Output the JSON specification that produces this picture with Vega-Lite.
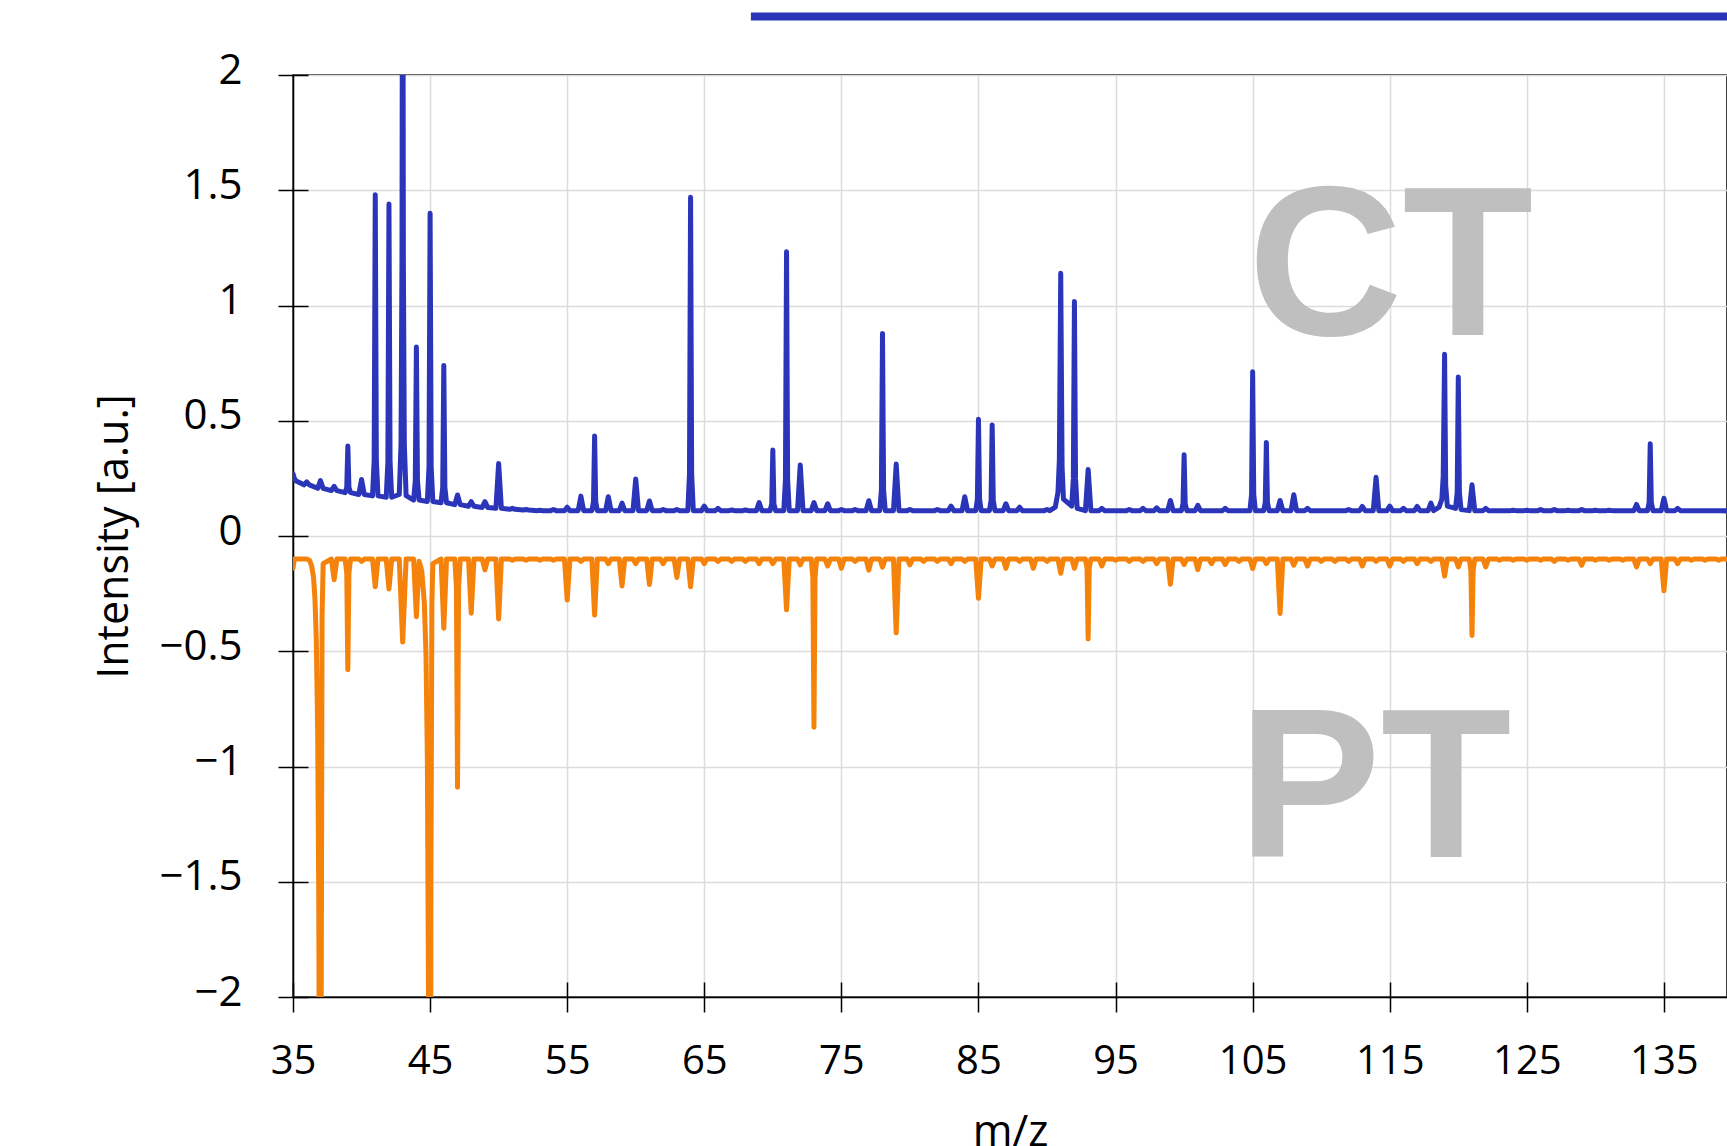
{
"$schema":"https://vega.github.io/schema/vega-lite/v6.json",
"width":1434,"height":922,
"autosize":{"type":"none"},
"padding":{"left":293,"top":75,"right":0,"bottom":149},
"background":"white",
"config":{"view":{"stroke":"#000","strokeWidth":1.5}},
"datasets":{
"spec":[
{"m":35,"c":0.27,"p":-0.14},{"m":35.1,"c":0.25,"p":-0.1},{"m":35.2,"c":0.24,"p":-0.1},
{"m":35.8,"c":0.222,"p":-0.1},{"m":36,"c":0.235,"p":-0.1},{"m":36.2,"c":0.222,"p":-0.105},
{"m":36.36,"p":-0.13},{"m":36.5,"p":-0.18},{"m":36.6,"p":-0.27},{"m":36.7,"p":-0.45},
{"m":36.8,"c":0.207,"p":-0.85},{"m":36.88,"p":-1.6},{"m":36.95,"p":-3},{"m":37,"c":0.24,"p":-5},{"m":37.06,"p":-2},{"m":37.12,"p":-0.35},{"m":37.2,"c":0.207,"p":-0.12},
{"m":37.8,"c":0.197,"p":-0.1},{"m":38,"c":0.215,"p":-0.19},{"m":38.2,"c":0.197,"p":-0.1},
{"m":38.8,"c":0.188,"p":-0.1},{"m":38.92,"c":0.21,"p":-0.16},{"m":39,"c":0.39,"p":-0.58},{"m":39.08,"c":0.21,"p":-0.16},{"m":39.2,"c":0.188,"p":-0.1},
{"m":39.8,"c":0.18,"p":-0.1},{"m":40,"c":0.245,"p":-0.11},{"m":40.2,"c":0.18,"p":-0.1},
{"m":40.8,"c":0.174,"p":-0.1},{"m":40.92,"c":0.33},{"m":41,"c":1.48,"p":-0.22},{"m":41.08,"c":0.33},{"m":41.2,"c":0.174,"p":-0.1},
{"m":41.8,"c":0.168,"p":-0.1},{"m":41.92,"c":0.32},{"m":42,"c":1.44,"p":-0.23},{"m":42.08,"c":0.32},{"m":42.2,"c":0.168,"p":-0.1},
{"m":42.75,"c":0.18,"p":-0.1},{"m":42.88,"c":0.4},{"m":42.95,"c":1.2},{"m":43,"c":3.5,"p":-0.46},{"m":43.05,"c":1.2},{"m":43.12,"c":0.4},{"m":43.25,"c":0.175,"p":-0.1},
{"m":43.8,"c":0.156,"p":-0.1},{"m":43.92,"c":0.24},{"m":44,"c":0.82,"p":-0.35},{"m":44.08,"c":0.24},{"m":44.2,"c":0.156,"p":-0.11},
{"m":44.39,"p":-0.15},{"m":44.58,"p":-0.29},{"m":44.7,"p":-0.51},
{"m":44.8,"c":0.15,"p":-0.96},{"m":44.9,"p":-2.2},{"m":44.92,"c":0.3},{"m":45,"c":1.4,"p":-5},{"m":45.06,"p":-1.5},{"m":45.08,"c":0.3},{"m":45.13,"p":-0.3},{"m":45.2,"c":0.15,"p":-0.12},
{"m":45.8,"c":0.144,"p":-0.1},{"m":45.92,"c":0.21},{"m":46,"c":0.74,"p":-0.4},{"m":46.08,"c":0.21},{"m":46.2,"c":0.144,"p":-0.1},
{"m":46.8,"c":0.136,"p":-0.1},{"m":46.92,"p":-0.22},{"m":47,"c":0.178,"p":-1.09},{"m":47.08,"p":-0.22},{"m":47.2,"c":0.136,"p":-0.1},
{"m":47.8,"c":0.129,"p":-0.1},{"m":48,"c":0.149,"p":-0.335},{"m":48.2,"c":0.129,"p":-0.1},
{"m":48.8,"c":0.124,"p":-0.1},{"m":49,"c":0.149,"p":-0.147},{"m":49.2,"c":0.124,"p":-0.1},
{"m":49.8,"c":0.12,"p":-0.1},{"m":50,"c":0.315,"p":-0.36},{"m":50.2,"c":0.12,"p":-0.1},
{"m":50.8,"c":0.116,"p":-0.1},{"m":51,"c":0.12,"p":-0.105},{"m":51.2,"c":0.116,"p":-0.1},
{"m":51.8,"c":0.113,"p":-0.1},{"m":52,"c":0.115,"p":-0.105},{"m":52.2,"c":0.113,"p":-0.1},
{"m":52.8,"c":0.11,"p":-0.1},{"m":53,"c":0.112,"p":-0.105},{"m":53.2,"c":0.11,"p":-0.1},
{"m":53.8,"c":0.11,"p":-0.1},{"m":54,"c":0.115,"p":-0.105},{"m":54.2,"c":0.11,"p":-0.1},
{"m":54.8,"c":0.11,"p":-0.1},{"m":55,"c":0.125,"p":-0.278},{"m":55.2,"c":0.11,"p":-0.1},
{"m":55.8,"c":0.11,"p":-0.1},{"m":56,"c":0.173,"p":-0.11},{"m":56.2,"c":0.11,"p":-0.1},
{"m":56.8,"c":0.11,"p":-0.1},{"m":56.92,"c":0.15},{"m":57,"c":0.434,"p":-0.343},{"m":57.08,"c":0.15},{"m":57.2,"c":0.11,"p":-0.1},
{"m":57.8,"c":0.11,"p":-0.1},{"m":58,"c":0.17,"p":-0.12},{"m":58.2,"c":0.11,"p":-0.1},
{"m":58.8,"c":0.11,"p":-0.1},{"m":59,"c":0.143,"p":-0.217},{"m":59.2,"c":0.11,"p":-0.1},
{"m":59.8,"c":0.11,"p":-0.1},{"m":60,"c":0.247,"p":-0.12},{"m":60.2,"c":0.11,"p":-0.1},
{"m":60.8,"c":0.11,"p":-0.1},{"m":61,"c":0.152,"p":-0.21},{"m":61.2,"c":0.11,"p":-0.1},
{"m":61.8,"c":0.11,"p":-0.1},{"m":62,"c":0.115,"p":-0.12},{"m":62.2,"c":0.11,"p":-0.1},
{"m":62.8,"c":0.11,"p":-0.1},{"m":63,"c":0.115,"p":-0.18},{"m":63.2,"c":0.11,"p":-0.1},
{"m":63.8,"c":0.11,"p":-0.1},{"m":63.92,"c":0.27},{"m":64,"c":1.47,"p":-0.22},{"m":64.08,"c":0.27},{"m":64.2,"c":0.11,"p":-0.1},
{"m":64.8,"c":0.11,"p":-0.1},{"m":65,"c":0.13,"p":-0.12},{"m":65.2,"c":0.11,"p":-0.1},
{"m":65.8,"c":0.11,"p":-0.1},{"m":66,"c":0.12,"p":-0.11},{"m":66.2,"c":0.11,"p":-0.1},
{"m":66.8,"c":0.11,"p":-0.1},{"m":67,"c":0.113,"p":-0.11},{"m":67.2,"c":0.11,"p":-0.1},
{"m":67.8,"c":0.11,"p":-0.1},{"m":68,"c":0.113,"p":-0.11},{"m":68.2,"c":0.11,"p":-0.1},
{"m":68.8,"c":0.11,"p":-0.1},{"m":69,"c":0.145,"p":-0.12},{"m":69.2,"c":0.11,"p":-0.1},
{"m":69.8,"c":0.11,"p":-0.1},{"m":69.92,"c":0.14},{"m":70,"c":0.373,"p":-0.12},{"m":70.08,"c":0.14},{"m":70.2,"c":0.11,"p":-0.1},
{"m":70.8,"c":0.11,"p":-0.1},{"m":70.92,"c":0.245},{"m":71,"c":1.233,"p":-0.32},{"m":71.08,"c":0.245},{"m":71.2,"c":0.11,"p":-0.1},
{"m":71.8,"c":0.11,"p":-0.1},{"m":72,"c":0.308,"p":-0.125},{"m":72.2,"c":0.11,"p":-0.1},
{"m":72.8,"c":0.11,"p":-0.1},{"m":72.92,"p":-0.18},{"m":73,"c":0.145,"p":-0.83},{"m":73.08,"p":-0.18},{"m":73.2,"c":0.11,"p":-0.1},
{"m":73.8,"c":0.11,"p":-0.1},{"m":74,"c":0.14,"p":-0.13},{"m":74.2,"c":0.11,"p":-0.1},
{"m":74.8,"c":0.11,"p":-0.1},{"m":75,"c":0.115,"p":-0.14},{"m":75.2,"c":0.11,"p":-0.1},
{"m":75.8,"c":0.11,"p":-0.1},{"m":76,"c":0.115,"p":-0.11},{"m":76.2,"c":0.11,"p":-0.1},
{"m":76.8,"c":0.11,"p":-0.1},{"m":77,"c":0.153,"p":-0.148},{"m":77.2,"c":0.11,"p":-0.1},
{"m":77.8,"c":0.11,"p":-0.1},{"m":77.92,"c":0.2},{"m":78,"c":0.879,"p":-0.135},{"m":78.08,"c":0.2},{"m":78.2,"c":0.11,"p":-0.1},
{"m":78.8,"c":0.11,"p":-0.1},{"m":79,"c":0.312,"p":-0.42},{"m":79.2,"c":0.11,"p":-0.1},
{"m":79.8,"c":0.11,"p":-0.1},{"m":80,"c":0.115,"p":-0.125},{"m":80.2,"c":0.11,"p":-0.1},
{"m":80.8,"c":0.11,"p":-0.1},{"m":81,"c":0.11,"p":-0.11},{"m":81.2,"c":0.11,"p":-0.1},
{"m":81.8,"c":0.11,"p":-0.1},{"m":82,"c":0.115,"p":-0.11},{"m":82.2,"c":0.11,"p":-0.1},
{"m":82.8,"c":0.11,"p":-0.1},{"m":83,"c":0.13,"p":-0.12},{"m":83.2,"c":0.11,"p":-0.1},
{"m":83.8,"c":0.11,"p":-0.1},{"m":84,"c":0.17,"p":-0.11},{"m":84.2,"c":0.11,"p":-0.1},
{"m":84.8,"c":0.11,"p":-0.1},{"m":84.92,"c":0.16},{"m":85,"c":0.506,"p":-0.27},{"m":85.08,"c":0.16},{"m":85.2,"c":0.11,"p":-0.1},
{"m":85.8,"c":0.11,"p":-0.1},{"m":85.92,"c":0.155},{"m":86,"c":0.482,"p":-0.13},{"m":86.08,"c":0.155},{"m":86.2,"c":0.11,"p":-0.1},
{"m":86.8,"c":0.11,"p":-0.1},{"m":87,"c":0.14,"p":-0.14},{"m":87.2,"c":0.11,"p":-0.1},
{"m":87.8,"c":0.11,"p":-0.1},{"m":88,"c":0.125,"p":-0.11},{"m":88.2,"c":0.11,"p":-0.1},
{"m":88.8,"c":0.11,"p":-0.1},{"m":89,"c":0.11,"p":-0.14},{"m":89.2,"c":0.11,"p":-0.1},
{"m":89.8,"c":0.11,"p":-0.1},{"m":90,"c":0.115,"p":-0.11},{"m":90.2,"c":0.11,"p":-0.1},
{"m":90.6,"c":0.125},{"m":90.8,"c":0.19,"p":-0.1},{"m":90.9,"c":0.33},{"m":91,"c":1.14,"p":-0.162},{"m":91.1,"c":0.3},{"m":91.2,"c":0.16,"p":-0.1},
{"m":91.8,"c":0.13,"p":-0.1},{"m":91.92,"c":0.25},{"m":92,"c":1.017,"p":-0.14},{"m":92.08,"c":0.25},{"m":92.2,"c":0.12,"p":-0.1},
{"m":92.8,"c":0.11,"p":-0.1},{"m":92.92,"p":-0.14},{"m":93,"c":0.289,"p":-0.447},{"m":93.08,"p":-0.14},{"m":93.2,"c":0.11,"p":-0.1},
{"m":93.8,"c":0.11,"p":-0.1},{"m":94,"c":0.12,"p":-0.13},{"m":94.2,"c":0.11,"p":-0.1},
{"m":94.8,"c":0.11,"p":-0.1},{"m":95,"c":0.11,"p":-0.105},{"m":95.2,"c":0.11,"p":-0.1},
{"m":95.8,"c":0.11,"p":-0.1},{"m":96,"c":0.115,"p":-0.11},{"m":96.2,"c":0.11,"p":-0.1},
{"m":96.8,"c":0.11,"p":-0.1},{"m":97,"c":0.12,"p":-0.11},{"m":97.2,"c":0.11,"p":-0.1},
{"m":97.8,"c":0.11,"p":-0.1},{"m":98,"c":0.122,"p":-0.12},{"m":98.2,"c":0.11,"p":-0.1},
{"m":98.8,"c":0.11,"p":-0.1},{"m":99,"c":0.154,"p":-0.209},{"m":99.2,"c":0.11,"p":-0.1},
{"m":99.8,"c":0.11,"p":-0.1},{"m":99.92,"c":0.14},{"m":100,"c":0.352,"p":-0.124},{"m":100.08,"c":0.14},{"m":100.2,"c":0.11,"p":-0.1},
{"m":100.8,"c":0.11,"p":-0.1},{"m":101,"c":0.133,"p":-0.146},{"m":101.2,"c":0.11,"p":-0.1},
{"m":101.8,"c":0.11,"p":-0.1},{"m":102,"c":0.11,"p":-0.12},{"m":102.2,"c":0.11,"p":-0.1},
{"m":102.8,"c":0.11,"p":-0.1},{"m":103,"c":0.12,"p":-0.124},{"m":103.2,"c":0.11,"p":-0.1},
{"m":103.8,"c":0.11,"p":-0.1},{"m":104,"c":0.11,"p":-0.11},{"m":104.2,"c":0.11,"p":-0.1},
{"m":104.8,"c":0.11,"p":-0.1},{"m":104.92,"c":0.18},{"m":105,"c":0.713,"p":-0.141},{"m":105.08,"c":0.18},{"m":105.2,"c":0.11,"p":-0.1},
{"m":105.8,"c":0.11,"p":-0.1},{"m":105.92,"c":0.145},{"m":106,"c":0.406,"p":-0.12},{"m":106.08,"c":0.145},{"m":106.2,"c":0.11,"p":-0.1},
{"m":106.8,"c":0.11,"p":-0.1},{"m":107,"c":0.154,"p":-0.336},{"m":107.2,"c":0.11,"p":-0.1},
{"m":107.8,"c":0.11,"p":-0.1},{"m":108,"c":0.179,"p":-0.127},{"m":108.2,"c":0.11,"p":-0.1},
{"m":108.8,"c":0.11,"p":-0.1},{"m":109,"c":0.12,"p":-0.13},{"m":109.2,"c":0.11,"p":-0.1},
{"m":109.8,"c":0.11,"p":-0.1},{"m":110,"c":0.11,"p":-0.11},{"m":110.2,"c":0.11,"p":-0.1},
{"m":110.8,"c":0.11,"p":-0.1},{"m":111,"c":0.11,"p":-0.11},{"m":111.2,"c":0.11,"p":-0.1},
{"m":111.8,"c":0.11,"p":-0.1},{"m":112,"c":0.115,"p":-0.11},{"m":112.2,"c":0.11,"p":-0.1},
{"m":112.8,"c":0.11,"p":-0.1},{"m":113,"c":0.128,"p":-0.13},{"m":113.2,"c":0.11,"p":-0.1},
{"m":113.8,"c":0.11,"p":-0.1},{"m":114,"c":0.255,"p":-0.11},{"m":114.2,"c":0.11,"p":-0.1},
{"m":114.8,"c":0.11,"p":-0.1},{"m":115,"c":0.13,"p":-0.13},{"m":115.2,"c":0.11,"p":-0.1},
{"m":115.8,"c":0.11,"p":-0.1},{"m":116,"c":0.12,"p":-0.11},{"m":116.2,"c":0.11,"p":-0.1},
{"m":116.8,"c":0.11,"p":-0.1},{"m":117,"c":0.128,"p":-0.12},{"m":117.2,"c":0.11,"p":-0.1},
{"m":117.8,"c":0.11,"p":-0.1},{"m":118,"c":0.143,"p":-0.11},{"m":118.2,"c":0.11,"p":-0.1},
{"m":118.6,"c":0.125},{"m":118.8,"c":0.16,"p":-0.1},{"m":118.9,"c":0.26},{"m":119,"c":0.788,"p":-0.174},{"m":119.08,"c":0.22},{"m":119.2,"c":0.13,"p":-0.1},
{"m":119.8,"c":0.12,"p":-0.1},{"m":119.92,"c":0.19},{"m":120,"c":0.69,"p":-0.134},{"m":120.08,"c":0.19},{"m":120.2,"c":0.115,"p":-0.1},
{"m":120.8,"c":0.11,"p":-0.1},{"m":120.92,"p":-0.15},{"m":121,"c":0.222,"p":-0.432},{"m":121.08,"p":-0.15},{"m":121.2,"c":0.11,"p":-0.1},
{"m":121.8,"c":0.11,"p":-0.1},{"m":122,"c":0.12,"p":-0.134},{"m":122.2,"c":0.11,"p":-0.1},
{"m":122.8,"c":0.11,"p":-0.1},{"m":123,"c":0.11,"p":-0.105},{"m":123.2,"c":0.11,"p":-0.1},
{"m":123.8,"c":0.11,"p":-0.1},{"m":124,"c":0.112,"p":-0.105},{"m":124.2,"c":0.11,"p":-0.1},
{"m":124.8,"c":0.11,"p":-0.1},{"m":125,"c":0.112,"p":-0.105},{"m":125.2,"c":0.11,"p":-0.1},
{"m":125.8,"c":0.11,"p":-0.1},{"m":126,"c":0.115,"p":-0.105},{"m":126.2,"c":0.11,"p":-0.1},
{"m":126.8,"c":0.11,"p":-0.1},{"m":127,"c":0.115,"p":-0.11},{"m":127.2,"c":0.11,"p":-0.1},
{"m":127.8,"c":0.11,"p":-0.1},{"m":128,"c":0.112,"p":-0.105},{"m":128.2,"c":0.11,"p":-0.1},
{"m":128.8,"c":0.11,"p":-0.1},{"m":129,"c":0.115,"p":-0.127},{"m":129.2,"c":0.11,"p":-0.1},
{"m":129.8,"c":0.11,"p":-0.1},{"m":130,"c":0.112,"p":-0.105},{"m":130.2,"c":0.11,"p":-0.1},
{"m":130.8,"c":0.11,"p":-0.1},{"m":131,"c":0.112,"p":-0.105},{"m":131.2,"c":0.11,"p":-0.1},
{"m":131.8,"c":0.11,"p":-0.1},{"m":132,"c":0.11,"p":-0.105},{"m":132.2,"c":0.11,"p":-0.1},
{"m":132.8,"c":0.11,"p":-0.1},{"m":133,"c":0.137,"p":-0.134},{"m":133.2,"c":0.11,"p":-0.1},
{"m":133.8,"c":0.11,"p":-0.1},{"m":133.92,"c":0.145},{"m":134,"c":0.4,"p":-0.12},{"m":134.08,"c":0.145},{"m":134.2,"c":0.11,"p":-0.1},
{"m":134.8,"c":0.11,"p":-0.1},{"m":135,"c":0.164,"p":-0.238},{"m":135.2,"c":0.11,"p":-0.1},
{"m":135.8,"c":0.11,"p":-0.1},{"m":136,"c":0.12,"p":-0.12},{"m":136.2,"c":0.11,"p":-0.1},
{"m":136.8,"c":0.11,"p":-0.1},{"m":137,"c":0.11,"p":-0.105},{"m":137.2,"c":0.11,"p":-0.1},
{"m":137.8,"c":0.11,"p":-0.1},{"m":138,"c":0.11,"p":-0.105},{"m":138.2,"c":0.11,"p":-0.1},
{"m":138.8,"c":0.11,"p":-0.1},{"m":139,"c":0.11,"p":-0.105},{"m":139.2,"c":0.11,"p":-0.1},
{"m":140,"c":0.108,"p":-0.1}
]},
"layer":[
{"data":{"values":[{"m":115.06,"y":0.872,"t":"CT"},{"m":113.9,"y":-1.393,"t":"PT"}]},
 "mark":{"type":"text","font":"Liberation Sans","fontWeight":"bold","fontSize":214,"color":"#bfbfbf","align":"center","baseline":"alphabetic"},
 "encoding":{
  "x":{"field":"m","type":"quantitative","scale":{"domain":[35,139.6],"nice":false,"zero":false},"axis":null},
  "y":{"field":"y","type":"quantitative","scale":{"domain":[-2,2],"nice":false,"zero":false},"axis":null},
  "text":{"field":"t"}}},
{"data":{"name":"spec"},
 "transform":[{"filter":{"field":"c","valid":true}}],
 "mark":{"type":"line","color":"#2b35b9","strokeWidth":5,"strokeJoin":"round","strokeCap":"round","clip":true},
 "encoding":{
  "x":{"field":"m","type":"quantitative","scale":{"domain":[35,139.6],"nice":false,"zero":false},
   "axis":{"values":[35,45,55,65,75,85,95,105,115,125,135],"title":"m/z","grid":true,"gridColor":"#dcdcdc","gridWidth":1.5,
    "domainColor":"#000","domainWidth":1.5,"tickColor":"#000","tickWidth":1.5,"tickSize":15,
    "labelFont":"Open Sans","labelFontSize":40,"labelColor":"#000","labelPadding":29,"labelFlush":false,"labelOverlap":false,
    "titleFont":"Open Sans","titleFontSize":43,"titleFontWeight":"normal","titleColor":"#000","titleY":148,"titleBaseline":"alphabetic"}},
  "y":{"field":"c","type":"quantitative","scale":{"domain":[-2,2],"nice":false,"zero":false},
   "axis":{"values":[-2,-1.5,-1,-0.5,0,0.5,1,1.5,2],"format":"~g","title":"Intensity [a.u.]","grid":true,"gridColor":"#dcdcdc","gridWidth":1.5,
    "domainColor":"#000","domainWidth":1.5,"tickColor":"#000","tickWidth":1.5,"tickSize":15,
    "labelFont":"Open Sans","labelFontSize":42,"labelColor":"#000","labelPadding":36,"labelOffset":-5,"labelFlush":false,"labelOverlap":false,
    "titleFont":"Open Sans","titleFontSize":43,"titleFontWeight":"normal","titleColor":"#000","titleX":-166,"titleBaseline":"alphabetic","titleAngle":270}}}},
{"data":{"name":"spec"},
 "transform":[{"filter":{"field":"p","valid":true}}],
 "mark":{"type":"line","color":"#f5820b","strokeWidth":5,"strokeJoin":"round","strokeCap":"round","clip":true},
 "encoding":{
  "x":{"field":"m","type":"quantitative","scale":{"domain":[35,139.6],"nice":false,"zero":false},
   "axis":{"orient":"bottom","offset":-15,"values":[35,45,55,65,75,85,95,105,115,125,135],"title":null,"grid":false,"domain":false,"labels":false,"tickColor":"#000","tickWidth":1.5,"tickSize":15}},
  "y":{"field":"p","type":"quantitative","scale":{"domain":[-2,2],"nice":false,"zero":false},
   "axis":{"orient":"left","offset":-15,"values":[-2,-1.5,-1,-0.5,0,0.5,1,1.5,2],"title":null,"grid":false,"domain":false,"labels":false,"tickColor":"#000","tickWidth":1.5,"tickSize":15}}}},
{"data":{"values":[{"m":68.4,"m2":140,"y":2.254}]},
 "mark":{"type":"rule","color":"#2b35b9","strokeWidth":8,"clip":false},
 "encoding":{
  "x":{"field":"m","type":"quantitative","scale":{"domain":[35,139.6],"nice":false,"zero":false},"axis":null},
  "x2":{"field":"m2"},
  "y":{"field":"y","type":"quantitative","scale":{"domain":[-2,2],"nice":false,"zero":false},"axis":null}}}
],
"resolve":{"axis":{"x":"independent","y":"independent"}}
}
